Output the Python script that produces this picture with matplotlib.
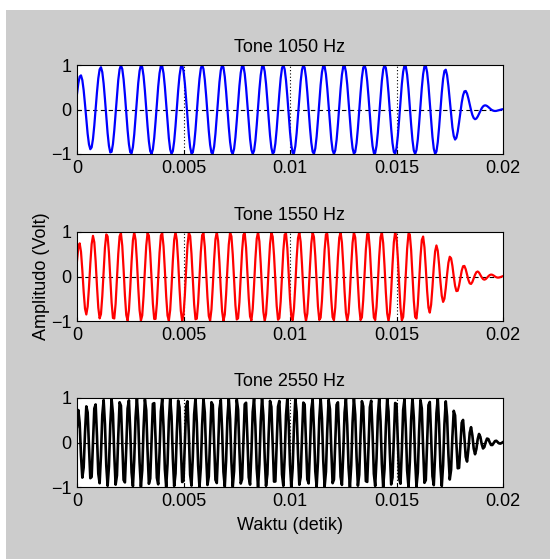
import numpy as np
import matplotlib
matplotlib.use("Agg")
import matplotlib.pyplot as plt

plt.rcParams["font.family"] = ["Liberation Sans", "DejaVu Sans"]

# tone parameters: frequency, time the tone starts to die out, fade width
FREQS = [1050, 1550, 2550]
FADE_START = [0.0168, 0.01556, 0.0169]
FADE_WIDTH = [0.00155, 0.0022, 0.00155]
COLORS = ["#0000ff", "#ff0000", "#000000"]
LINE_W = [1.6, 1.6, 1.9]
TITLES = ["Tone 1050 Hz", "Tone 1550 Hz", "Tone 2550 Hz"]
XTICKS = [0, 0.005, 0.01, 0.015, 0.02]
XTICKLABELS = ["0", "0.005", "0.01", "0.015", "0.02"]
YTICKS = [-1, 0, 1]

FS = 16000
t = np.arange(0, 0.02 + 1 / FS, 1 / FS)

W, H = 550, 559
fig = plt.figure(figsize=(W / 100, H / 100), dpi=100)
fig.patch.set_facecolor("white")
# grey figure area with a thin white strip at the top and left
fig.patches.append(plt.Rectangle((6 / W, 0), 1 - 6 / W, 1 - 10 / H,
                                 transform=fig.transFigure,
                                 facecolor="#cccccc", edgecolor="none",
                                 zorder=-10))

left, right = 77, 503
tops = [65, 232, 398]
height = 89

axes = []
for i, f in enumerate(FREQS):
    ax = fig.add_axes([left / W, 1 - (tops[i] + height) / H,
                       (right - left) / W, height / H])
    env = 1 - 0.3 * np.exp(-t / 0.0006)
    late = t > FADE_START[i]
    env[late] *= np.exp(-((t[late] - FADE_START[i]) / FADE_WIDTH[i]) ** 2)
    y = env * np.sin(2 * np.pi * f * t + np.pi / 6)

    ax.axhline(0, color="black", ls=(0, (4, 3)), lw=0.8, zorder=1)
    for xv in XTICKS[1:-1]:
        ax.axvline(xv, color="black", ls=(0, (1, 2)), lw=0.8, zorder=1)
    ax.plot(t, y, color=COLORS[i], lw=LINE_W[i], zorder=2)

    ax.set_xlim(0, 0.02)
    ax.set_ylim(-1, 1)
    ax.set_xticks(XTICKS)
    ax.set_xticklabels(XTICKLABELS)
    ax.set_yticks(YTICKS)
    ax.tick_params(direction="in", length=3, labelsize=13, pad=4)
    for s in ax.spines.values():
        s.set_linewidth(0.8)
    ax.set_title(TITLES[i], fontsize=13, pad=9)
    axes.append(ax)

axes[1].set_ylabel("Amplitudo (Volt)", fontsize=13, labelpad=1)
axes[2].set_xlabel("Waktu (detik)", fontsize=13, labelpad=5)

fig.savefig("out.png", dpi=100, facecolor=fig.get_facecolor())
